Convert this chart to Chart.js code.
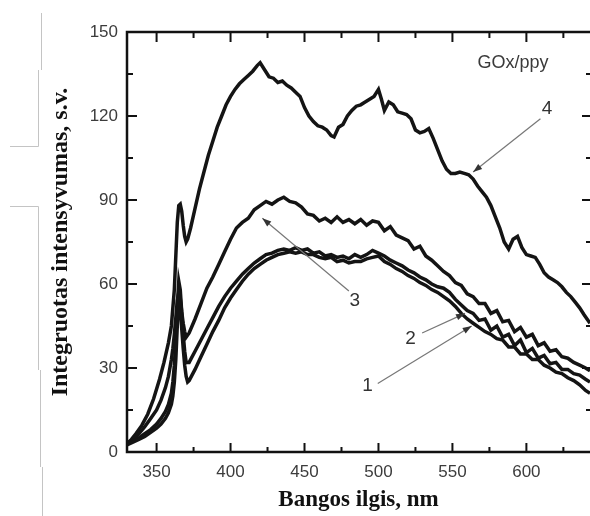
<!DOCTYPE html>
<html>
<head>
<meta charset="utf-8">
<script src="https://cdn.jsdelivr.net/npm/chart.js@4.4.1/dist/chart.umd.min.js"></script>
<style>
html,body{margin:0;padding:0;background:#fff;}
#wrap{width:590px;height:516px;position:relative;}
</style>
</head>
<body>
<div id="wrap"><canvas id="c" width="590" height="516"></canvas></div>
<script>
// ---- data (wavelength nm, integrated intensity a.u.) ----
const xTicks = [350, 400, 450, 500, 550, 600];
const xMinorTicks = [375, 425, 475, 525, 575, 625];
const yTicks = [0, 30, 60, 90, 120, 150];
const yMinorTicks = [15, 45, 75, 105, 135];

const curve1 = [[330,2.5],[334,3.5],[338,4.5],[342,5.5],[346,7],[350,8.5],[353,10],[356,12],[358,14],[360,17],[361,20],[362,25],[363,33],[364,45],[365,55],[366,52],[367,44],[368,37],[369,31],[370,27],[371,25],[372,25.5],[376,29.5],[380,34],[384,38.5],[388,43],[392,47],[396,51.5],[400,55],[404,58],[408,61],[412,63.5],[416,65.5],[420,67],[424,68.5],[428,69.5],[432,70.5],[436,71],[440,71.5],[444,71],[448,71.5],[452,70.5],[456,70.5],[460,69.5],[464,69],[468,69.5],[472,68],[476,68.5],[480,67.5],[484,68],[488,68],[492,69],[496,69.5],[500,70],[504,68],[508,67],[512,65.5],[516,64.5],[520,63],[524,62],[528,60.5],[532,59.5],[536,58],[540,57],[544,55.5],[548,54],[552,52],[556,49.5],[560,47.5],[564,46],[568,44.5],[572,43],[576,42],[580,40.5],[584,40],[588,37.5],[592,37.5],[596,35],[600,35],[604,33],[608,33],[612,31],[616,30],[620,28.5],[624,28],[628,26.5],[632,25.5],[636,24],[640,22],[643,21]];

const curve2 = [[330,3],[334,4],[338,5],[342,6.5],[346,8],[350,10],[353,12],[356,14.5],[358,17],[360,21],[361,25],[362,31],[363,40],[364,52],[365,61],[366,58],[367,50],[368,42],[369,36],[370,32],[372,32],[376,36],[380,40],[384,44],[388,48],[392,52],[396,55.5],[400,58.5],[404,61],[408,63.5],[412,65.5],[416,67.5],[420,69],[424,70.5],[428,71],[432,72],[436,72.5],[440,72],[444,73],[448,72],[452,72.5],[456,71],[460,71.5],[464,70],[468,70.5],[472,69.5],[476,70],[480,69],[484,70.5],[488,69.5],[492,70.5],[496,72],[500,71],[504,70],[508,68.5],[512,67.5],[516,66.5],[520,65],[524,64],[528,62.5],[532,61.5],[536,60],[540,59],[544,58.5],[548,57],[552,54.5],[556,52.5],[560,50.5],[564,49.5],[568,47],[572,47.5],[576,43.5],[580,45],[584,41],[588,42],[592,38],[596,40],[600,35.5],[604,37],[608,33.5],[612,34.5],[616,31.5],[620,32],[624,29.5],[628,29.5],[632,28],[636,27.5],[640,26],[643,25]];

const curve3 = [[330,3],[334,4.5],[338,6.5],[342,9],[346,12],[350,15],[353,18.5],[356,23],[358,27],[360,33],[361,37],[362,42],[363,48],[364,54],[365,57],[366,55],[367,50],[368,46],[369,43],[370,41],[372,42.5],[376,47.5],[380,53],[384,58.5],[388,62.5],[392,67],[396,71.5],[400,76],[404,80],[408,82],[412,83.5],[416,86.5],[420,88],[424,89.5],[428,88.5],[432,90],[436,91],[440,89.5],[444,89],[448,87.5],[452,85],[456,84.5],[460,82.5],[464,83.5],[468,82],[472,84],[476,82],[480,83],[484,81.5],[488,83],[492,81],[496,82.5],[500,82],[504,79],[508,80.5],[512,77.5],[516,76.5],[520,75.5],[524,72.5],[528,73.5],[532,70],[536,68.5],[540,66.5],[544,64.5],[548,63],[552,60.5],[556,59.5],[560,56.5],[564,55.5],[568,53],[572,53],[576,49.5],[580,50.5],[584,46.5],[588,47],[592,43],[596,44.5],[600,41],[604,42],[608,38],[612,39],[616,36],[620,36.5],[624,34],[628,33.5],[632,32],[636,31],[640,30],[643,29]];

const curve4 = [[330,3],[333,4.5],[336,6.5],[340,9.5],[344,13.5],[348,19],[352,26],[355,32],[358,39],[360,45],[362,58],[363,70],[364,82],[365,88],[366,88.5],[367,86],[368,81],[369,77],[370,75],[371,76],[373,80],[376,87],[379,94],[382,100],[385,106],[388,111],[391,116],[394,120],[397,124],[400,127],[403,129.5],[406,131.5],[409,133],[412,134.5],[415,136],[418,138],[420,139],[423,136.5],[426,134],[429,133.5],[432,132],[435,132.5],[438,131],[441,130],[444,128.5],[447,127],[450,123],[453,120],[456,118],[459,116.5],[462,116],[465,115],[468,113],[470,112.5],[473,116],[476,117],[479,120],[482,122],[485,123.5],[488,124],[491,125],[494,126],[497,127],[500,129.5],[502,126],[504,122],[507,125],[510,124],[513,121.5],[516,121],[519,120.5],[522,119],[525,115],[528,114],[531,114.5],[534,115.5],[537,112],[540,108],[543,104],[546,101],[549,99.5],[552,99.5],[555,100],[558,99.5],[561,99],[564,97.5],[567,95],[570,93],[573,91],[576,88],[579,84],[582,80],[585,75],[588,72.5],[591,76],[594,77],[597,73],[600,70.5],[603,70],[606,69.5],[609,67],[612,64],[615,62.5],[618,61.5],[621,60.5],[624,59],[627,57],[630,55.5],[633,53.5],[636,51.5],[639,49],[643,46]];

const seriesNames = ['1', '2', '3', '4'];
const seriesData = [curve1, curve2, curve3, curve4];

// annotation labels (in data units)
const notes = [
  {text:'4', at:[614,122.7], from:[609.5,119], to:[564,100]},
  {text:'3', at:[484,54], from:[480,57.5], to:[421.5,83.5]},
  {text:'2', at:[521.6,40.6], from:[529.5,42.5], to:[558.5,49.5]},
  {text:'1', at:[492.6,23.5], from:[499.5,24.5], to:[563,45]}
];
const sampleLabel = {text:'GOx/ppy', at:[591,139]};

// ---- plugin: frame, inward ticks, titles, annotations ----
const decor = {
  id: 'decor',
  beforeDraw(chart){
    const ctx = chart.ctx;
    ctx.save();
    ctx.fillStyle = '#fff';
    ctx.fillRect(0,0,chart.width,chart.height);
    // faint scan artefact lines at left edge
    ctx.strokeStyle = '#c4c4c4';
    ctx.lineWidth = 1;
    ctx.beginPath();
    ctx.moveTo(41.5,13); ctx.lineTo(41.5,70);
    ctx.moveTo(38.5,70); ctx.lineTo(38.5,146.5); ctx.lineTo(10,146.5);
    ctx.moveTo(10,206.5); ctx.lineTo(38.5,206.5); ctx.lineTo(38.5,370);
    ctx.moveTo(40.5,370); ctx.lineTo(40.5,467);
    ctx.moveTo(42.5,467); ctx.lineTo(42.5,516);
    ctx.stroke();
    ctx.restore();
  },
  afterDraw(chart){
    const {ctx, chartArea:a, scales} = chart;
    const xs = scales.x, ys = scales.y;
    ctx.save();
    ctx.strokeStyle = '#111';
    ctx.lineWidth = 2.5;
    ctx.beginPath();
    ctx.moveTo(a.right+3, a.top); ctx.lineTo(a.left, a.top); ctx.lineTo(a.left, a.bottom); ctx.lineTo(a.right+3, a.bottom);
    ctx.stroke();
    ctx.lineWidth = 2;
    ctx.beginPath();
    xTicks.forEach(v=>{ const p=xs.getPixelForValue(v);
      ctx.moveTo(p,a.bottom); ctx.lineTo(p,a.bottom-9);
      ctx.moveTo(p,a.top); ctx.lineTo(p,a.top+10); });
    xMinorTicks.forEach(v=>{ const p=xs.getPixelForValue(v);
      ctx.moveTo(p,a.bottom); ctx.lineTo(p,a.bottom-5);
      ctx.moveTo(p,a.top); ctx.lineTo(p,a.top+6); });
    yTicks.forEach(v=>{ const p=ys.getPixelForValue(v);
      ctx.moveTo(a.left,p); ctx.lineTo(a.left+10,p);
      ctx.moveTo(a.right,p); ctx.lineTo(a.right-8,p); });
    yMinorTicks.forEach(v=>{ const p=ys.getPixelForValue(v);
      ctx.moveTo(a.left,p); ctx.lineTo(a.left+6,p);
      ctx.moveTo(a.right,p); ctx.lineTo(a.right-4,p); });
    ctx.stroke();

    // axis titles
    ctx.fillStyle = '#111';
    ctx.textAlign = 'center';
    ctx.textBaseline = 'middle';
    ctx.font = 'bold 23px "Liberation Serif", "Times New Roman", serif';
    ctx.fillText('Bangos ilgis, nm', (a.left+a.right)/2, 500);
    ctx.save();
    ctx.font = 'bold 24px "Liberation Serif", "Times New Roman", serif';
    ctx.translate(61, (a.top+a.bottom)/2);
    ctx.rotate(-Math.PI/2);
    ctx.fillText('Integruotas intensyvumas, s.v.', 0, 0);
    ctx.restore();

    // annotations
    ctx.fillStyle = '#3a3a3a';
    ctx.font = '18px "Liberation Sans", Arial, sans-serif';
    ctx.fillText(sampleLabel.text, xs.getPixelForValue(sampleLabel.at[0]), ys.getPixelForValue(sampleLabel.at[1]));
    notes.forEach(n=>{
      ctx.fillStyle = '#333';
      ctx.font = '19px "Liberation Sans", Arial, sans-serif';
      ctx.fillText(n.text, xs.getPixelForValue(n.at[0]), ys.getPixelForValue(n.at[1]));
      const x0=xs.getPixelForValue(n.from[0]), y0=ys.getPixelForValue(n.from[1]);
      const x1=xs.getPixelForValue(n.to[0]), y1=ys.getPixelForValue(n.to[1]);
      ctx.strokeStyle = '#777';
      ctx.lineWidth = 1.2;
      ctx.beginPath(); ctx.moveTo(x0,y0); ctx.lineTo(x1,y1); ctx.stroke();
      const ang = Math.atan2(y1-y0, x1-x0), L=9, W=3.2;
      ctx.fillStyle = '#333';
      ctx.beginPath();
      ctx.moveTo(x1,y1);
      ctx.lineTo(x1-L*Math.cos(ang)+W*Math.sin(ang), y1-L*Math.sin(ang)-W*Math.cos(ang));
      ctx.lineTo(x1-L*Math.cos(ang)-W*Math.sin(ang), y1-L*Math.sin(ang)+W*Math.cos(ang));
      ctx.closePath(); ctx.fill();
    });
    ctx.restore();
  }
};

const datasets = seriesData.map((d,i)=>({
  label: seriesNames[i],
  data: d.map(p=>({x:p[0], y:p[1]})),
  borderColor: '#141414',
  borderWidth: 3.5,
  pointRadius: 0,
  tension: 0,
  fill: false
}));

new Chart(document.getElementById('c'), {
  type: 'line',
  data: { datasets },
  options: {
    responsive: false,
    animation: false,
    layout: { padding: { top: 32, right: 0, left: 0, bottom: 0 } },
    plugins: { legend: {display:false}, tooltip: {enabled:false}, title:{display:false} },
    scales: {
      x: {
        type: 'linear', min: 330, max: 643,
        grid: { display:false, drawTicks:false },
        border: { display:false },
        afterBuildTicks: s => { s.ticks = xTicks.map(v=>({value:v})); },
        afterFit: s => { s.height = 64; },
        ticks: { color:'#3c3c3c', padding: 10, font:{family:'"Liberation Sans", Arial, sans-serif', size:17}, maxRotation:0 }
      },
      y: {
        type: 'linear', min: 0, max: 150,
        grid: { display:false, drawTicks:false },
        border: { display:false },
        afterBuildTicks: s => { s.ticks = yTicks.map(v=>({value:v})); },
        afterFit: s => { s.width = 127; },
        ticks: { color:'#3c3c3c', padding: 9, font:{family:'"Liberation Sans", Arial, sans-serif', size:17} }
      }
    }
  },
  plugins: [decor]
});
</script>
</body>
</html>
